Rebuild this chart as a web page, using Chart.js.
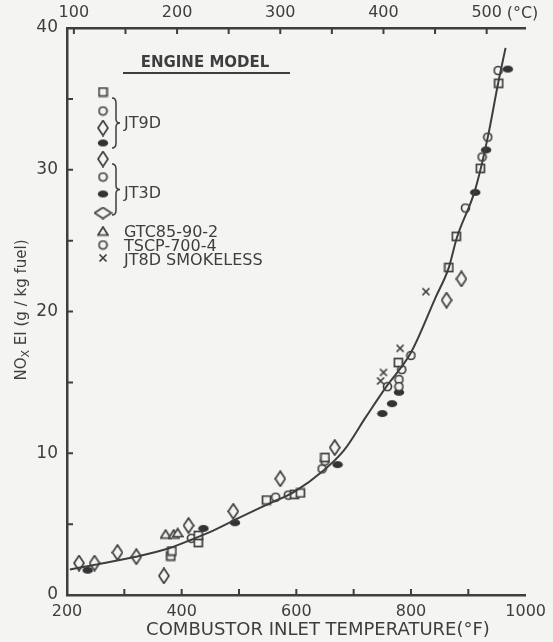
<!DOCTYPE html>
<html>
<head>
<meta charset="utf-8">
<script src="https://cdn.jsdelivr.net/npm/chart.js@4.4.1/dist/chart.umd.min.js"></script>
<style>
  html, body { margin: 0; padding: 0; background: #f4f4f2; }
  #wrap { width: 553px; height: 642px; position: relative; }
</style>
</head>
<body>
<div id="wrap"><canvas id="nox"></canvas></div>
<script>
// values: temperature in deg F, NOx EI in g/kg fuel
const squareF   = [381, 383, 429, 429, 548, 597, 607, 650, 778, 866, 879, 921, 953];
const squareNox = [2.75, 3.1, 3.7, 4.2, 6.7, 7.1, 7.2, 9.7, 16.4, 23.1, 25.3, 30.1, 36.1];

const circleF   = [417, 564, 586, 645, 650, 759, 779, 779, 784, 800, 895, 924, 934, 952];
const circleNox = [4.0, 6.9, 7.05, 8.9, 9.45, 14.7, 15.2, 14.7, 15.9, 16.9, 27.3, 30.9, 32.3, 37.0];

const diamondF   = [221, 248, 288, 321, 369, 412, 490, 572, 667, 862, 888];
const diamondNox = [2.25, 2.25, 3.0, 2.7, 1.35, 4.9, 5.9, 8.2, 10.4, 20.8, 22.3];

const filledF   = [236, 438, 493, 672, 750, 767, 779, 912, 931, 969];
const filledNox = [1.75, 4.7, 5.1, 9.2, 12.8, 13.5, 14.3, 28.4, 31.4, 37.1];

const triangleF   = [372, 386, 393];
const triangleNox = [4.3, 4.3, 4.4];

const crossF   = [747, 752, 781, 826];
const crossNox = [15.1, 15.7, 17.4, 21.4];

// the faired curve
const curveF   = [205, 245, 320, 378, 417, 447, 498, 550, 597, 648, 683, 722, 757, 800, 843, 866, 880, 912, 934, 952, 965];
const curveNox = [1.8, 2.1, 2.7, 3.3, 3.9, 4.4, 5.4, 6.4, 7.3, 8.8, 10.2, 12.6, 14.7, 17.1, 21.0, 23.1, 25.2, 28.6, 32.3, 36.1, 38.6];

const xTicksF   = [200, 300, 400, 500, 600, 700, 800, 900, 1000];
const xLabelsF  = [200, 400, 600, 800, 1000];
const topTicksC = [100, 150, 200, 250, 300, 350, 400, 450, 500];
const topLabelsC = [100, 200, 300, 400, 500];
const yLabels   = [0, 10, 20, 30, 40];

const INK = '#3e3e3e';
const PAPER = '#f4f4f2';
const FONT = 'DejaVu Sans';

function pts(xs, ys) {
    return xs.map((x, i) => ({ x: x, y: ys[i] }));
}

function marker(w, h, draw) {
    const c = document.createElement('canvas');
    c.width = w;
    c.height = h;
    const g = c.getContext('2d');
    g.strokeStyle = INK;
    g.fillStyle = PAPER;
    g.lineWidth = 1.7;
    draw(g, w, h);
    return c;
}

const mSquare = marker(11, 11, (g) => { g.fillRect(1, 1, 9, 9); g.strokeRect(1.5, 1.5, 8, 8); });
const mCircle = marker(11, 11, (g) => { g.beginPath(); g.arc(5.5, 5.5, 4, 0, Math.PI * 2); g.fill(); g.stroke(); });
const mDiamond = marker(12, 17, (g) => {
    g.beginPath(); g.moveTo(6, 1); g.lineTo(11, 8.5); g.lineTo(6, 16); g.lineTo(1, 8.5); g.closePath(); g.fill(); g.stroke();
});
const mWideDiamond = marker(19, 13, (g) => {
    g.beginPath(); g.moveTo(1, 6.5); g.lineTo(9.5, 1); g.lineTo(18, 6.5); g.lineTo(9.5, 12); g.closePath(); g.fill(); g.stroke();
});
const mFilled = marker(12, 9, (g) => {
    g.fillStyle = '#333'; g.beginPath(); g.ellipse(6, 4.5, 5.2, 3.6, 0, 0, Math.PI * 2); g.fill();
});
const mTriangle = marker(12, 11, (g) => {
    g.beginPath(); g.moveTo(6, 1.5); g.lineTo(11, 9.5); g.lineTo(1, 9.5); g.closePath(); g.fill(); g.stroke();
});
const mCross = marker(10, 10, (g) => {
    g.beginPath(); g.moveTo(1.5, 1.5); g.lineTo(8.5, 8.5); g.moveTo(8.5, 1.5); g.lineTo(1.5, 8.5); g.stroke();
});

function scatterSet(label, data, style) {
    return { label: label, data: data, pointStyle: style, pointRadius: 6, showLine: false };
}

// background + inward tick marks + legend + axis titles
const paperPlugin = {
    id: 'paper',
    beforeDraw(chart) {
        const ctx = chart.ctx;
        ctx.save();
        ctx.fillStyle = PAPER;
        ctx.fillRect(0, 0, chart.width, chart.height);
        ctx.restore();
    },
    afterDraw(chart) {
        const ctx = chart.ctx;
        const a = chart.chartArea;
        const sx = chart.scales.x, st = chart.scales.xTop, sy = chart.scales.y;
        ctx.save();
        ctx.strokeStyle = INK;
        ctx.lineWidth = 2;
        ctx.beginPath();
        xTicksF.slice(1, -1).forEach(v => {
            const p = sx.getPixelForValue(v);
            ctx.moveTo(p, a.bottom); ctx.lineTo(p, a.bottom - 6);
        });
        topTicksC.forEach(v => {
            const p = st.getPixelForValue(v);
            ctx.moveTo(p, a.top); ctx.lineTo(p, a.top + 6);
        });
        [5, 10, 15, 20, 25, 30, 35].forEach(v => {
            const p = sy.getPixelForValue(v);
            ctx.moveTo(a.left, p); ctx.lineTo(a.left + 6, p);
        });
        ctx.stroke();

        // (°C) after the last top label
        ctx.fillStyle = INK;
        ctx.font = '16px ' + FONT;
        ctx.textBaseline = 'middle';
        ctx.textAlign = 'left';
        ctx.fillText('(°C)', st.getPixelForValue(500) + 20, 14);

        // x title
        ctx.font = '18px ' + FONT;
        ctx.textAlign = 'center';
        ctx.fillText('COMBUSTOR INLET TEMPERATURE(°F)', 318, 630);

        // y title with subscript
        ctx.save();
        ctx.translate(22, 310);
        ctx.rotate(-Math.PI / 2);
        ctx.textAlign = 'left';
        const parts = [['NO', '15px ' + FONT, 0], ['X', '11px ' + FONT, 4], [' EI (g / kg fuel)', '15px ' + FONT, 0]];
        let total = 0;
        parts.forEach(p => { ctx.font = p[1]; total += ctx.measureText(p[0]).width; });
        let cx = -total / 2;
        parts.forEach(p => {
            ctx.font = p[1];
            ctx.fillText(p[0], cx, p[2]);
            cx += ctx.measureText(p[0]).width;
        });
        ctx.restore();

        // legend
        ctx.font = 'bold 15px ' + FONT;
        ctx.textAlign = 'center';
        ctx.fillText('ENGINE MODEL', 205, 63);
        ctx.lineWidth = 2;
        ctx.beginPath();
        ctx.moveTo(123, 73); ctx.lineTo(290, 73);
        ctx.stroke();

        const mx = 103;
        [[mSquare, 92], [mCircle, 111], [mDiamond, 128], [mFilled, 143],
         [mDiamond, 159], [mCircle, 177], [mFilled, 194], [mWideDiamond, 213],
         [mTriangle, 231], [mCircle, 245], [mCross, 258]].forEach(m => {
            ctx.drawImage(m[0], mx - m[0].width / 2, m[1] - m[0].height / 2);
        });

        function brace(x, top, bot) {
            const mid = (top + bot) / 2;
            ctx.beginPath();
            ctx.moveTo(x, top);
            ctx.quadraticCurveTo(x + 4, top, x + 4, top + 5);
            ctx.lineTo(x + 4, mid - 4);
            ctx.quadraticCurveTo(x + 4, mid, x + 8, mid);
            ctx.quadraticCurveTo(x + 4, mid, x + 4, mid + 4);
            ctx.lineTo(x + 4, bot - 5);
            ctx.quadraticCurveTo(x + 4, bot, x, bot);
            ctx.stroke();
        }
        ctx.lineWidth = 1.5;
        brace(112, 98, 148);
        brace(112, 164, 215);

        ctx.font = '16px ' + FONT;
        ctx.textAlign = 'left';
        ctx.fillText('JT9D', 124, 124);
        ctx.fillText('JT3D', 124, 194);
        ctx.fillText('GTC85-90-2', 124, 233);
        ctx.fillText('TSCP-700-4', 124, 247);
        ctx.fillText('JT8D SMOKELESS', 124, 261);
        ctx.restore();
    }
};

const tickFont = { family: FONT, size: 16 };

const config = {
    type: 'scatter',
    data: {
        datasets: [
            {
                label: 'fit',
                data: pts(curveF, curveNox),
                showLine: true,
                borderColor: INK,
                borderWidth: 2,
                pointRadius: 0,
                cubicInterpolationMode: 'monotone',
            },
            scatterSet('square', pts(squareF, squareNox), mSquare),
            scatterSet('circle', pts(circleF, circleNox), mCircle),
            scatterSet('diamond', pts(diamondF, diamondNox), mDiamond),
            scatterSet('filled', pts(filledF, filledNox), mFilled),
            scatterSet('triangle', pts(triangleF, triangleNox), mTriangle),
            scatterSet('cross', pts(crossF, crossNox), mCross),
        ],
    },
    options: {
        responsive: true,
        maintainAspectRatio: false,
        animation: false,
        events: [],
        layout: { padding: { left: 0, top: 0, bottom: 0, right: 22 } },
        plugins: {
            legend: { display: false },
            tooltip: { enabled: false },
        },
        scales: {
            x: {
                type: 'linear',
                position: 'bottom',
                min: 200,
                max: 1000,
                afterBuildTicks: (s) => { s.ticks = xTicksF.map(v => ({ value: v })); },
                afterFit: (s) => { s.height = 47; },
                ticks: {
                    color: INK,
                    font: tickFont,
                    padding: 7,
                    maxRotation: 0,
                    autoSkip: false,
                    callback: (v) => xLabelsF.includes(v) ? String(v) : '',
                },
                grid: { display: false, drawTicks: false },
                border: { color: INK, width: 2.5 },
            },
            xTop: {
                type: 'linear',
                position: 'top',
                min: (200 - 32) / 1.8,
                max: (1000 - 32) / 1.8,
                afterBuildTicks: (s) => { s.ticks = topTicksC.map(v => ({ value: v })); },
                afterFit: (s) => { s.height = 28; },
                ticks: {
                    color: INK,
                    font: tickFont,
                    padding: 6,
                    maxRotation: 0,
                    autoSkip: false,
                    callback: (v) => topLabelsC.includes(v) ? String(v) : '',
                },
                grid: { display: false, drawTicks: false },
                border: { color: INK, width: 2.5 },
            },
            y: {
                type: 'linear',
                min: 0,
                max: 40,
                afterBuildTicks: (s) => { s.ticks = yLabels.map(v => ({ value: v })); },
                afterFit: (s) => { s.width = 67; },
                ticks: {
                    color: INK,
                    font: { family: FONT, size: 17 },
                    padding: 9,
                },
                grid: { display: false, drawTicks: false },
                border: { color: INK, width: 2.5 },
            },
        },
    },
    plugins: [paperPlugin],
};

const ctx = document.getElementById('nox').getContext('2d');
window.noxChart = new Chart(ctx, config);
</script>
</body>
</html>
